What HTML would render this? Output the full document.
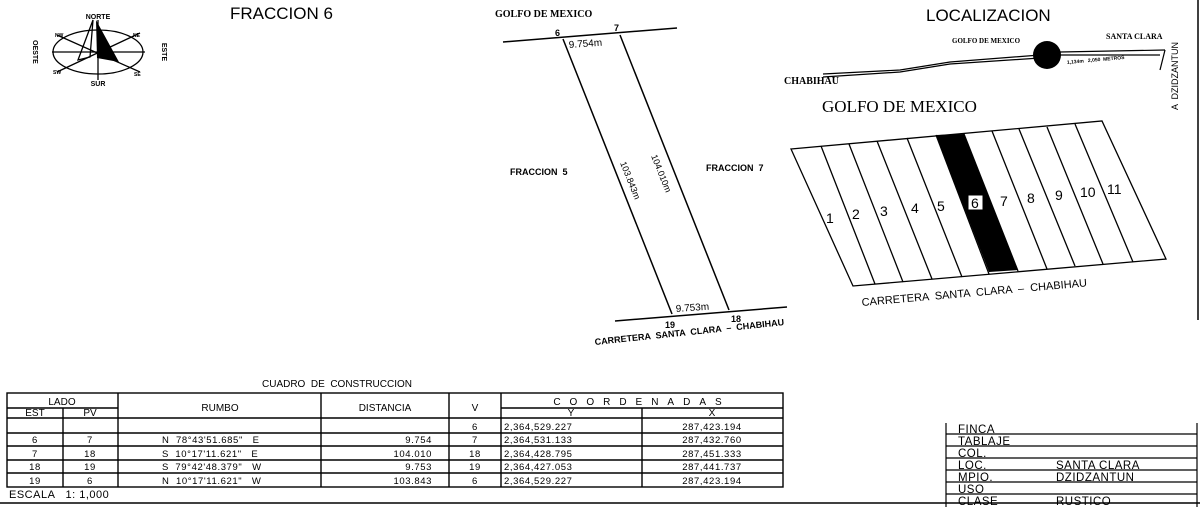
<!DOCTYPE html>
<html><head><meta charset="utf-8"><style>
html,body{margin:0;padding:0;background:#fff;}
svg{display:block;}
text{font-family:"Liberation Sans",sans-serif;fill:#000;white-space:pre;}
.s{font-family:"Liberation Serif",serif;font-weight:bold;}
</style></head><body>
<svg width="1200" height="507" viewBox="0 0 1200 507" xmlns="http://www.w3.org/2000/svg" xml:space="preserve">
<g stroke="#000" fill="none" stroke-width="1.3">
<ellipse cx="98" cy="52" rx="45" ry="22"/>
<line x1="52" y1="52" x2="145" y2="52"/>
<line x1="98" y1="20" x2="98" y2="80"/>
<line x1="57" y1="35" x2="140" y2="72"/>
<line x1="140" y1="33" x2="57" y2="72"/>
<polygon points="93,20 78,60 90,57" />
</g>
<polygon points="96,20 97,58 119,62" fill="#000"/>
<text x="98" y="19" font-size="7" font-weight="bold" text-anchor="middle">NORTE</text>
<text x="98" y="86" font-size="7" font-weight="bold" text-anchor="middle">SUR</text>
<text x="33" y="52" font-size="7" font-weight="bold" text-anchor="middle" transform="rotate(90 33 52)">OESTE</text>
<text x="162" y="52" font-size="7" font-weight="bold" text-anchor="middle" transform="rotate(90 162 52)">ESTE</text>
<text x="55" y="37" font-size="5" font-weight="bold">NW</text>
<text x="133" y="37" font-size="5" font-weight="bold">NE</text>
<text x="53" y="74" font-size="5" font-weight="bold">SW</text>
<text x="134" y="76" font-size="5" font-weight="bold">SE</text>

<text x="230" y="19" font-size="17">FRACCION 6</text>
<text x="495" y="17" font-size="10" class="s">GOLFO DE MEXICO</text>

<g stroke="#000" stroke-width="1.5">
<line x1="503" y1="42" x2="677" y2="28"/>
<line x1="615" y1="321" x2="787" y2="307"/>
<line x1="563" y1="39" x2="672" y2="314"/>
<line x1="620" y1="35" x2="729" y2="310"/>
</g>
<text x="555" y="36" font-size="9" font-weight="bold">6</text>
<text x="614" y="31" font-size="9" font-weight="bold">7</text>
<text x="569" y="48" font-size="10" transform="rotate(-4 569 48)">9.754m</text>
<text x="676" y="312" font-size="10" transform="rotate(-4 676 312)">9.753m</text>
<text x="665" y="328" font-size="9" font-weight="bold">19</text>
<text x="731" y="322" font-size="9" font-weight="bold">18</text>
<text x="595" y="345" font-size="9" font-weight="bold" transform="rotate(-6 595 345)">CARRETERA  SANTA  CLARA  –  CHABIHAU</text>
<text x="510" y="175" font-size="9" font-weight="bold">FRACCION  5</text>
<text x="706" y="171" font-size="9" font-weight="bold">FRACCION  7</text>
<text x="620" y="163" font-size="9" transform="rotate(68 620 163)">103.843m</text>
<text x="651" y="156" font-size="9" transform="rotate(68 651 156)">104.010m</text>

<text x="926" y="21" font-size="17">LOCALIZACION</text>
<text x="952" y="43" font-size="7" class="s">GOLFO DE MEXICO</text>
<text x="1106" y="39" font-size="8" class="s">SANTA CLARA</text>
<text x="784" y="84" font-size="10" class="s">CHABIHAU</text>
<g stroke="#000" fill="none" stroke-width="1.2">
<path d="M823,74 L900,70 L950,62 L1040,55"/>
<path d="M823,77 L900,72 L950,64 L1040,58"/>
<line x1="1060" y1="52" x2="1165" y2="50"/>
<line x1="1060" y1="55" x2="1160" y2="55"/>
<line x1="1165" y1="50" x2="1160" y2="70"/>
</g>
<circle cx="1047" cy="55" r="14" fill="#000"/>
<text x="1067" y="64" font-size="5" font-weight="bold" transform="rotate(-5 1067 64)">1,134m   2,050  METROS</text>
<text x="1178" y="110" font-size="9" transform="rotate(-90 1178 110)">A  DZIDZANTUN</text>
<text x="822" y="112" font-size="17" class="s" style="font-weight:normal">GOLFO DE MEXICO</text>

<polygon points="936,135 964,134 1018,270 989,272" fill="#000"/>
<g stroke="#000" stroke-width="1.3" fill="none">
<polygon points="791,149 1102,121 1166,259 853,286"/>
<line x1="821" y1="146" x2="875" y2="284"/>
<line x1="849" y1="144" x2="903" y2="282"/>
<line x1="877" y1="141" x2="932" y2="279"/>
<line x1="907" y1="138" x2="962" y2="277"/>
<line x1="936" y1="135" x2="989" y2="274"/>
<line x1="964" y1="134" x2="1018" y2="271"/>
<line x1="992" y1="131" x2="1047" y2="269"/>
<line x1="1019" y1="129" x2="1075" y2="266"/>
<line x1="1047" y1="127" x2="1103" y2="264"/>
<line x1="1075" y1="124" x2="1133" y2="262"/>
</g>
<g font-size="14">
<text x="826" y="223">1</text><text x="852" y="219">2</text><text x="880" y="216">3</text>
<text x="911" y="213">4</text><text x="937" y="211">5</text>
<rect x="968" y="195" width="15" height="15" fill="#fff" stroke="#000"/>
<text x="971" y="208">6</text>
<text x="1000" y="206">7</text><text x="1027" y="203">8</text><text x="1055" y="200">9</text>
<text x="1080" y="197">10</text><text x="1107" y="194">11</text>
</g>
<text x="862" y="306" font-size="11" transform="rotate(-5 862 306)">CARRETERA  SANTA  CLARA  –  CHABIHAU</text>
<line x1="1198" y1="0" x2="1198" y2="320" stroke="#000" stroke-width="1.5"/>

<text x="262" y="387" font-size="10">CUADRO  DE  CONSTRUCCION</text>
<g stroke="#000" stroke-width="1.4" fill="none">
<rect x="7" y="393" width="776" height="94"/>
<line x1="63" y1="408" x2="63" y2="487"/>
<line x1="7" y1="408" x2="118" y2="408"/>
<line x1="118" y1="393" x2="118" y2="487"/>
<line x1="321" y1="393" x2="321" y2="487"/>
<line x1="449" y1="393" x2="449" y2="487"/>
<line x1="501" y1="393" x2="501" y2="487"/>
<line x1="501" y1="408" x2="783" y2="408"/>
<line x1="642" y1="408" x2="642" y2="487"/>
<line x1="7" y1="418" x2="783" y2="418"/>
<line x1="7" y1="433" x2="783" y2="433"/>
<line x1="7" y1="446" x2="783" y2="446"/>
<line x1="7" y1="460" x2="783" y2="460"/>
<line x1="7" y1="473" x2="783" y2="473"/>
<line x1="0" y1="503" x2="1200" y2="503"/>
</g>
<g font-size="10" text-anchor="middle">
<text x="62" y="405">LADO</text>
<text x="35" y="416">EST</text><text x="90" y="416">PV</text>
<text x="220" y="411">RUMBO</text>
<text x="385" y="411">DISTANCIA</text>
<text x="475" y="411">V</text>
<text x="642" y="405" letter-spacing="9">COORDENADAS</text>
<text x="571" y="416">Y</text><text x="712" y="416">X</text>
</g>
<g font-size="9.5" text-anchor="middle" letter-spacing="0.6">
<text x="475" y="430">6</text><text x="712" y="430">287,423.194</text>
<text x="35" y="443">6</text><text x="90" y="443">7</text><text x="475" y="443">7</text><text x="712" y="443">287,432.760</text>
<text x="35" y="457">7</text><text x="90" y="457">18</text><text x="475" y="457">18</text><text x="712" y="457">287,451.333</text>
<text x="35" y="470">18</text><text x="90" y="470">19</text><text x="475" y="470">19</text><text x="712" y="470">287,441.737</text>
<text x="35" y="484">19</text><text x="90" y="484">6</text><text x="475" y="484">6</text><text x="712" y="484">287,423.194</text>
</g>
<g font-size="9.5" letter-spacing="0.6">
<text x="504" y="430">2,364,529.227</text>
<text x="504" y="443">2,364,531.133</text>
<text x="504" y="457">2,364,428.795</text>
<text x="504" y="470">2,364,427.053</text>
<text x="504" y="484">2,364,529.227</text>
<text x="162" y="443">N  78°43'51.685"   E</text>
<text x="162" y="457">S  10°17'11.621"   E</text>
<text x="162" y="470">S  79°42'48.379"   W</text>
<text x="162" y="484">N  10°17'11.621"   W</text>
</g>
<g font-size="9.5" text-anchor="end" letter-spacing="0.6">
<text x="432" y="443">9.754</text><text x="432" y="457">104.010</text>
<text x="432" y="470">9.753</text><text x="432" y="484">103.843</text>
</g>
<text x="9" y="498" font-size="11" letter-spacing="0.5">ESCALA   1: 1,000</text>

<g stroke="#000" stroke-width="1.2">
<line x1="946" y1="423" x2="946" y2="507"/>
<line x1="1197" y1="423" x2="1197" y2="507"/>
<line x1="946" y1="434" x2="1197" y2="434"/>
<line x1="946" y1="446" x2="1197" y2="446"/>
<line x1="946" y1="458" x2="1197" y2="458"/>
<line x1="946" y1="470" x2="1197" y2="470"/>
<line x1="946" y1="482" x2="1197" y2="482"/>
<line x1="946" y1="494" x2="1197" y2="494"/>
</g>
<g font-size="11.5" letter-spacing="0.5">
<text x="958" y="433">FINCA</text>
<text x="958" y="445">TABLAJE</text>
<text x="958" y="457">COL.</text>
<text x="958" y="469">LOC.</text><text x="1056" y="469">SANTA CLARA</text>
<text x="958" y="481">MPIO.</text><text x="1056" y="481">DZIDZANTUN</text>
<text x="958" y="493">USO</text>
<text x="958" y="505">CLASE</text><text x="1056" y="505">RUSTICO</text>
</g>
</svg>
</body></html>
